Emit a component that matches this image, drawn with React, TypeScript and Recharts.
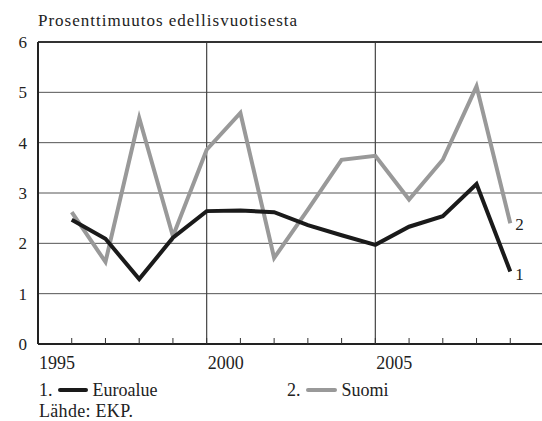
import React from "react";
import {
  LineChart,
  Line,
  XAxis,
  YAxis,
  CartesianGrid,
  ReferenceLine,
} from "recharts";

const years = [1996, 1997, 1998, 1999, 2000, 2001, 2002, 2003, 2004, 2005, 2006, 2007, 2008, 2009];
const euroalue = [2.47, 2.09, 1.29, 2.11, 2.64, 2.65, 2.62, 2.36, 2.16, 1.97, 2.33, 2.54, 3.18, 1.44];
const suomi = [2.62, 1.63, 4.49, 2.14, 3.86, 4.59, 1.71, 2.67, 3.66, 3.74, 2.87, 3.66, 5.12, 2.4];
const xTicks = [1995, 1996, 1997, 1998, 1999, 2000, 2001, 2002, 2003, 2004, 2005, 2006, 2007, 2008, 2009];
const xLabels = [1995, 2000, 2005];
const yTicks = [0, 1, 2, 3, 4, 5, 6];
const gridYears = [2000, 2005];

const data = years.map((y, i) => ({ year: y, euro: euroalue[i], suomi: suomi[i] }));

const FONT = "Liberation Serif, Tinos, DejaVu Serif, Times New Roman, serif";
const W = 542;
const H = 421;
const TOP = 42;
const BOTTOM = 344;

const XTick = (props: any) => {
  const { x, payload } = props;
  const v = payload.value;
  return (
    <g>
      {v !== 1995 && <line x1={x} x2={x} y1={BOTTOM} y2={BOTTOM - 6} stroke="#333" strokeWidth={1} />}
      {xLabels.includes(v) && (
        <text x={x + 1} y={BOTTOM + 25} textAnchor="start" style={{ fontFamily: FONT }} fontSize={18} fill="#222">
          {v}
        </text>
      )}
    </g>
  );
};

const YTick = (props: any) => {
  const { y, payload } = props;
  return (
    <text x={27} y={y + 6} textAnchor="end" style={{ fontFamily: FONT }} fontSize={17} fill="#222">
      {payload.value}
    </text>
  );
};

const endLabel = (txt: string, dy: number) => (props: any) => {
  const { x, y, index } = props;
  if (index !== years.length - 1) return null;
  return (
    <text key={txt} x={x + 5} y={y + dy} style={{ fontFamily: FONT }} fontSize={17} fill="#222">
      {txt}
    </text>
  );
};

export default function App() {
  return (
    <div style={{ position: "absolute", left: 0, top: 0, width: W, height: H, overflow: "hidden", background: "#fff", fontFamily: FONT, color: "#222" }}>
      <div style={{ position: "absolute", left: 38, top: 11, fontSize: 17, letterSpacing: 1.0, whiteSpace: "nowrap" }}>
        Prosenttimuutos edellisvuotisesta
      </div>
      <LineChart
        width={W + 2}
        height={H}
        data={data}
        margin={{ top: TOP, right: 0, left: 0, bottom: H - BOTTOM - 30 }}
      >
        <CartesianGrid vertical={false} stroke="#555" strokeWidth={1} horizontalValues={[1, 2, 3, 4, 5]} />
        {gridYears.map((g) => (
          <ReferenceLine key={g} x={g} stroke="#444" strokeWidth={1.2} />
        ))}
        <ReferenceLine y={6} stroke="#333" strokeWidth={2} />
        <XAxis
          dataKey="year"
          type="number"
          domain={[1995, 2010]}
          ticks={xTicks}
          interval={0}
          height={30}
          axisLine={{ stroke: "#222", strokeWidth: 2 }}
          tickLine={false}
          tick={<XTick />}
          allowDataOverflow
        />
        <YAxis
          width={38}
          domain={[0, 6]}
          ticks={yTicks}
          interval={0}
          axisLine={{ stroke: "#222", strokeWidth: 2 }}
          tickLine={false}
          tick={<YTick />}
        />
        <Line
          dataKey="suomi"
          stroke="#999999"
          strokeWidth={4}
          dot={false}
          isAnimationActive={false}
          strokeLinejoin="miter"
          label={endLabel("2", 7)}
        />
        <Line
          dataKey="euro"
          stroke="#1a1a1a"
          strokeWidth={4}
          dot={false}
          isAnimationActive={false}
          strokeLinejoin="miter"
          label={endLabel("1", 8)}
        />
      </LineChart>
      <div style={{ position: "absolute", left: 39, top: 380, fontSize: 18, lineHeight: "20px", whiteSpace: "nowrap", display: "flex", alignItems: "center" }}>
        <span>1.</span>
        <span style={{ display: "inline-block", width: 30, height: 4, background: "#1a1a1a", borderRadius: 2, marginLeft: 5, marginRight: 5 }} />
        <span>Euroalue</span>
      </div>
      <div style={{ position: "absolute", left: 287, top: 380, fontSize: 18, lineHeight: "20px", whiteSpace: "nowrap", display: "flex", alignItems: "center" }}>
        <span>2.</span>
        <span style={{ display: "inline-block", width: 31, height: 4, background: "#999", borderRadius: 2, marginLeft: 5, marginRight: 5 }} />
        <span>Suomi</span>
      </div>
      <div style={{ position: "absolute", left: 39, top: 402, fontSize: 18, lineHeight: "18px", letterSpacing: 0.3, whiteSpace: "nowrap" }}>
        Lähde: EKP.
      </div>
    </div>
  );
}
